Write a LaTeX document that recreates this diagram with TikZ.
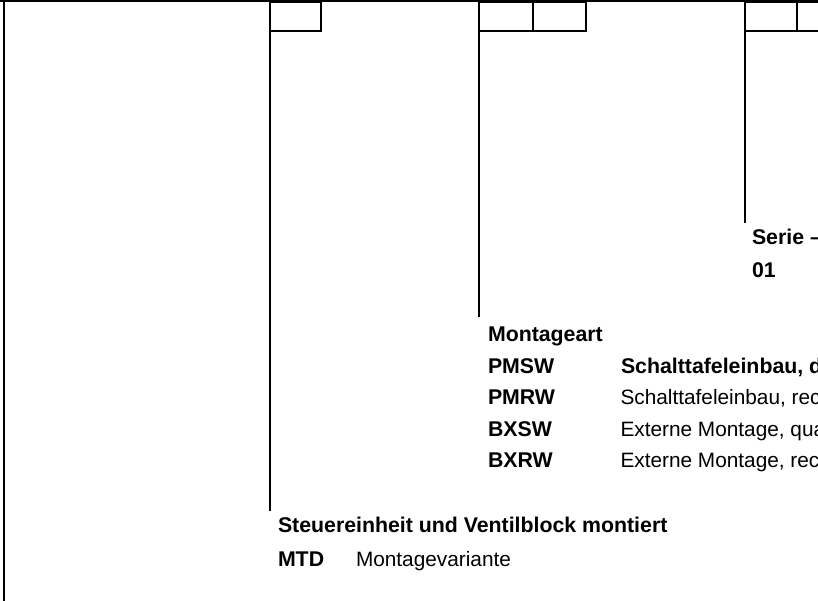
\documentclass[tikz,border=0pt]{standalone}
\usepackage{fontspec}
\setmainfont{Liberation Sans}
\begin{document}
\begin{tikzpicture}[x=1pt,y=-1pt, line width=2.2pt,
  cell/.style={draw, minimum height=29.5pt, inner sep=0pt, outer sep=0pt},
  lbl/.style={anchor=base west, inner sep=0pt, outer sep=0pt, font=\fontsize{20.8}{25}\selectfont},
  hd/.style={lbl, font=\fontsize{21.3}{25}\selectfont\bfseries},
  conn/.style={draw, line width=2.2pt}]
\useasboundingbox (0,0) rectangle (818,601);
\clip (0,0) rectangle (818,601);
% frame
\draw (0,1.2) -- (830,1.2);
\draw (4,0) -- (4,601);
% code cells
\node[cell, minimum width=51pt] (b1) at (295.5,16.2) {};
\node[cell, minimum width=54pt] (b2a) at (506,16.2) {};
\node[cell, minimum width=53pt] (b2b) at (559.5,16.2) {};
\node[cell, minimum width=52pt] (b3a) at (771,16.2) {};
\node[cell, minimum width=52pt] (b3b) at (823,16.2) {};
% connector ends
\coordinate (e1) at (270,511);
\coordinate (e2) at (479,317);
\coordinate (e3) at (745,223);
\draw[conn] (b1.south west) -- (e1);
\draw[conn] (b2a.south west) -- (e2);
\draw[conn] (b3a.south west) -- (e3);
% texts
\node[hd] (serie) at (752,245) {Serie –};
\node[hd] (s01) at (752,277) {01};
\node[hd] (mont) at (488,341) {Montageart};
\node[hd] (c1) at (488,373) {PMSW};
\node[hd] (d1) at (621,373) {Schalttafeleinbau, d};
\node[hd] (c2) at (488,404.5) {PMRW};
\node[lbl] (d2) at (620.5,404.5) {Schalttafeleinbau, rec};
\node[hd] (c3) at (488,436) {BXSW};
\node[lbl] (d3) at (620.5,436) {Externe Montage, qua};
\node[hd] (c4) at (488,467.5) {BXRW};
\node[lbl] (d4) at (620.5,467.5) {Externe Montage, rec};
\node[hd] (steu) at (278,532) {Steuereinheit und Ventilblock montiert};
\node[hd] (mtd) at (278,566) {MTD};
\node[lbl] (mv) at (356,566) {Montagevariante};
\end{tikzpicture}
\end{document}
